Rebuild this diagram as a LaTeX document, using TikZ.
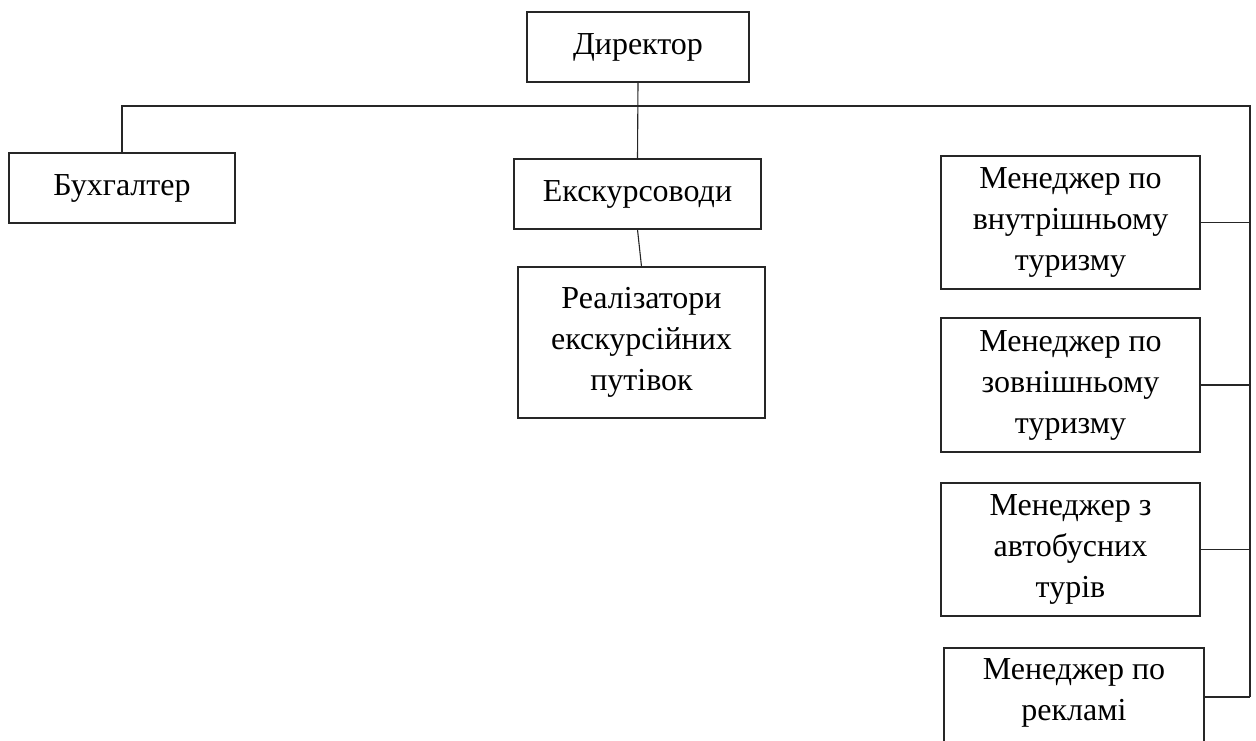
\documentclass[tikz,border=0pt]{standalone}
\usepackage{fontspec}
\setmainfont{Liberation Serif}
\begin{document}
\begin{tikzpicture}[x=1pt,y=-1pt,
  box/.style={draw=black!85, line width=1.1pt, rectangle, inner sep=0pt, align=center,
    font=\fontsize{32}{41}\selectfont},
  conn/.style={draw=black!85, line width=1.1pt}]
\useasboundingbox (0,0) rectangle (1256,740);
\clip (0,0) rectangle (1256,740);
\node[box, minimum width=222pt, minimum height=70pt] (dir) at (638,47) {Директор};
\node[box, minimum width=226pt, minimum height=70pt] (buh) at (122,188) {Бухгалтер};
\node[box, minimum width=247pt, minimum height=70pt] (eks) at (637.5,194) {Екскурсоводи};
\node[box, minimum width=247pt, minimum height=151pt] (real) at (641.5,342.5) {Реалізатори\\екскурсійних\\путівок};
\node[box, minimum width=259pt, minimum height=133pt] (m1) at (1070.5,222.5) {Менеджер по\\внутрішньому\\туризму};
\node[box, minimum width=259pt, minimum height=134pt] (m2) at (1070.5,385) {Менеджер по\\зовнішньому\\туризму};
\node[box, minimum width=259pt, minimum height=133pt] (m3) at (1070.5,549.5) {Менеджер з\\автобусних\\турів};
\node[box, minimum width=260pt, minimum height=98pt, text depth=14pt] (m4) at (1074,697) {Менеджер по\\рекламі};
\coordinate (tr) at (1250,106);
\coordinate (rb) at (1250,697);
\draw[conn] (dir.south) -- (eks.north);
\draw[conn] (eks.south) -- (real.north);
\draw[conn] (buh.north) |- (tr) -- (rb);
\draw[conn] (m1.east) -- (m1.east -| tr);
\draw[conn] (m2.east) -- (m2.east -| tr);
\draw[conn] (m3.east) -- (m3.east -| tr);
\draw[conn] (m4.east) -- (rb);
\end{tikzpicture}
\end{document}
